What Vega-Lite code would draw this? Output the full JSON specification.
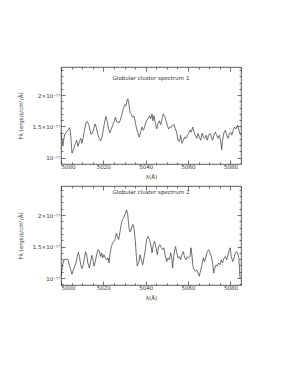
{
"$schema": "https://vega.github.io/schema/vega-lite/v6.json",
"padding": {"left": 17, "top": 66, "right": 0, "bottom": 0},
"background": "white",
"config": {
  "font": "DejaVu Sans",
  "view": {"stroke": "#333", "strokeWidth": 0.8},
  "axis": {"labelFontSize": 5.5, "titleFontSize": 5.5, "labelColor": "#333", "titleColor": "#333", "tickColor": "#333", "grid": false, "domain": false, "titleFontWeight": "normal", "tickWidth": 0.7},
  "axisX": {"labelPadding": 4, "titlePadding": 5},
  "axisY": {"labelPadding": 5, "titlePadding": 9},
  "title": {"fontSize": 5.5, "fontWeight": "normal", "color": "#333", "font": "DejaVu Sans", "baseline": "middle"},
  "concat": {"spacing": 4}
},
"datasets": {
"s1": [
{"wavelength":5000.0,"flux":1.41},{"wavelength":5000.5,"flux":1.28},{"wavelength":5000.9,"flux":1.20},{"wavelength":5001.7,"flux":1.37},{"wavelength":5002.5,"flux":1.41},{"wavelength":5003.3,"flux":1.44},{"wavelength":5004.1,"flux":1.48},{"wavelength":5004.6,"flux":1.36},{"wavelength":5005.2,"flux":1.07},{"wavelength":5006.0,"flux":1.14},{"wavelength":5006.8,"flux":1.23},{"wavelength":5007.4,"flux":1.28},{"wavelength":5008.0,"flux":1.18},{"wavelength":5008.7,"flux":1.26},{"wavelength":5009.3,"flux":1.31},{"wavelength":5009.9,"flux":1.23},{"wavelength":5010.5,"flux":1.33},{"wavelength":5011.2,"flux":1.46},{"wavelength":5011.8,"flux":1.56},{"wavelength":5012.4,"flux":1.58},{"wavelength":5013.1,"flux":1.53},{"wavelength":5013.7,"flux":1.44},{"wavelength":5014.3,"flux":1.37},{"wavelength":5015.0,"flux":1.41},{"wavelength":5015.6,"flux":1.49},{"wavelength":5016.2,"flux":1.54},{"wavelength":5016.8,"flux":1.46},{"wavelength":5017.5,"flux":1.36},{"wavelength":5018.1,"flux":1.31},{"wavelength":5018.7,"flux":1.27},{"wavelength":5019.4,"flux":1.33},{"wavelength":5020.0,"flux":1.46},{"wavelength":5020.6,"flux":1.57},{"wavelength":5021.2,"flux":1.66},{"wavelength":5021.9,"flux":1.57},{"wavelength":5022.5,"flux":1.46},{"wavelength":5023.1,"flux":1.40},{"wavelength":5023.8,"flux":1.46},{"wavelength":5024.4,"flux":1.52},{"wavelength":5025.0,"flux":1.57},{"wavelength":5025.7,"flux":1.65},{"wavelength":5026.3,"flux":1.57},{"wavelength":5026.9,"flux":1.57},{"wavelength":5027.5,"flux":1.56},{"wavelength":5028.2,"flux":1.62},{"wavelength":5028.8,"flux":1.70},{"wavelength":5029.4,"flux":1.78},{"wavelength":5030.1,"flux":1.85},{"wavelength":5030.7,"flux":1.83},{"wavelength":5031.2,"flux":1.91},{"wavelength":5031.6,"flux":1.94},{"wavelength":5032.1,"flux":1.85},{"wavelength":5032.6,"flux":1.72},{"wavelength":5033.2,"flux":1.70},{"wavelength":5033.8,"flux":1.65},{"wavelength":5034.5,"flux":1.66},{"wavelength":5035.1,"flux":1.57},{"wavelength":5035.7,"flux":1.46},{"wavelength":5036.4,"flux":1.39},{"wavelength":5037.0,"flux":1.33},{"wavelength":5037.6,"flux":1.41},{"wavelength":5038.2,"flux":1.49},{"wavelength":5038.9,"flux":1.44},{"wavelength":5039.5,"flux":1.49},{"wavelength":5040.1,"flux":1.57},{"wavelength":5040.8,"flux":1.62},{"wavelength":5041.9,"flux":1.67},{"wavelength":5042.3,"flux":1.62},{"wavelength":5043.0,"flux":1.70},{"wavelength":5043.4,"flux":1.59},{"wavelength":5043.9,"flux":1.67},{"wavelength":5044.5,"flux":1.57},{"wavelength":5045.2,"flux":1.46},{"wavelength":5045.8,"flux":1.54},{"wavelength":5046.4,"flux":1.59},{"wavelength":5047.1,"flux":1.53},{"wavelength":5047.7,"flux":1.62},{"wavelength":5048.3,"flux":1.70},{"wavelength":5049.0,"flux":1.66},{"wavelength":5049.6,"flux":1.59},{"wavelength":5050.2,"flux":1.52},{"wavelength":5050.8,"flux":1.46},{"wavelength":5051.5,"flux":1.49},{"wavelength":5052.1,"flux":1.49},{"wavelength":5052.7,"flux":1.52},{"wavelength":5053.4,"flux":1.53},{"wavelength":5054.0,"flux":1.46},{"wavelength":5054.6,"flux":1.41},{"wavelength":5055.2,"flux":1.28},{"wavelength":5055.9,"flux":1.26},{"wavelength":5056.5,"flux":1.36},{"wavelength":5057.1,"flux":1.23},{"wavelength":5057.8,"flux":1.28},{"wavelength":5058.4,"flux":1.33},{"wavelength":5059.0,"flux":1.31},{"wavelength":5059.7,"flux":1.36},{"wavelength":5060.3,"flux":1.39},{"wavelength":5060.9,"flux":1.44},{"wavelength":5061.5,"flux":1.41},{"wavelength":5062.2,"flux":1.49},{"wavelength":5062.8,"flux":1.41},{"wavelength":5063.4,"flux":1.36},{"wavelength":5064.1,"flux":1.31},{"wavelength":5064.7,"flux":1.39},{"wavelength":5065.3,"flux":1.33},{"wavelength":5066.0,"flux":1.28},{"wavelength":5066.6,"flux":1.39},{"wavelength":5067.2,"flux":1.33},{"wavelength":5067.8,"flux":1.31},{"wavelength":5068.5,"flux":1.36},{"wavelength":5069.1,"flux":1.28},{"wavelength":5069.7,"flux":1.36},{"wavelength":5070.4,"flux":1.39},{"wavelength":5071.0,"flux":1.33},{"wavelength":5071.6,"flux":1.28},{"wavelength":5072.2,"flux":1.36},{"wavelength":5072.9,"flux":1.41},{"wavelength":5073.5,"flux":1.36},{"wavelength":5074.1,"flux":1.31},{"wavelength":5074.8,"flux":1.36},{"wavelength":5075.4,"flux":1.26},{"wavelength":5075.9,"flux":1.13},{"wavelength":5076.3,"flux":1.28},{"wavelength":5077.0,"flux":1.41},{"wavelength":5077.6,"flux":1.44},{"wavelength":5078.2,"flux":1.36},{"wavelength":5078.9,"flux":1.31},{"wavelength":5079.5,"flux":1.39},{"wavelength":5080.1,"flux":1.41},{"wavelength":5080.7,"flux":1.36},{"wavelength":5081.3,"flux":1.44},{"wavelength":5082.0,"flux":1.49},{"wavelength":5082.6,"flux":1.46},{"wavelength":5083.3,"flux":1.52},{"wavelength":5083.9,"flux":1.46},{"wavelength":5084.5,"flux":1.39},{"wavelength":5085.0,"flux":1.36}
],
"s2": [
{"wavelength":5000.0,"flux":1.03},{"wavelength":5000.2,"flux":1.08},{"wavelength":5000.8,"flux":1.21},{"wavelength":5001.4,"flux":1.29},{"wavelength":5002.4,"flux":1.30},{"wavelength":5003.3,"flux":1.29},{"wavelength":5003.9,"flux":1.21},{"wavelength":5004.6,"flux":1.13},{"wavelength":5005.2,"flux":1.06},{"wavelength":5005.8,"flux":1.13},{"wavelength":5006.5,"flux":1.19},{"wavelength":5007.1,"flux":1.24},{"wavelength":5007.7,"flux":1.34},{"wavelength":5008.2,"flux":1.41},{"wavelength":5008.7,"flux":1.34},{"wavelength":5009.3,"flux":1.21},{"wavelength":5009.9,"flux":1.15},{"wavelength":5010.5,"flux":1.21},{"wavelength":5011.2,"flux":1.34},{"wavelength":5011.6,"flux":1.42},{"wavelength":5012.1,"flux":1.37},{"wavelength":5012.7,"flux":1.24},{"wavelength":5013.4,"flux":1.16},{"wavelength":5014.0,"flux":1.26},{"wavelength":5014.5,"flux":1.36},{"wavelength":5015.0,"flux":1.32},{"wavelength":5015.6,"flux":1.19},{"wavelength":5016.2,"flux":1.26},{"wavelength":5016.8,"flux":1.37},{"wavelength":5017.5,"flux":1.45},{"wavelength":5018.1,"flux":1.42},{"wavelength":5018.7,"flux":1.34},{"wavelength":5019.2,"flux":1.40},{"wavelength":5019.7,"flux":1.32},{"wavelength":5020.3,"flux":1.37},{"wavelength":5020.9,"flux":1.32},{"wavelength":5021.6,"flux":1.29},{"wavelength":5022.2,"flux":1.32},{"wavelength":5022.7,"flux":1.24},{"wavelength":5023.1,"flux":1.37},{"wavelength":5023.8,"flux":1.50},{"wavelength":5024.4,"flux":1.56},{"wavelength":5025.0,"flux":1.58},{"wavelength":5025.7,"flux":1.63},{"wavelength":5026.1,"flux":1.71},{"wavelength":5026.6,"flux":1.66},{"wavelength":5027.2,"flux":1.61},{"wavelength":5027.9,"flux":1.74},{"wavelength":5028.5,"flux":1.87},{"wavelength":5029.1,"flux":1.93},{"wavelength":5029.7,"flux":1.96},{"wavelength":5030.4,"flux":2.03},{"wavelength":5031.0,"flux":2.08},{"wavelength":5031.5,"flux":2.01},{"wavelength":5031.9,"flux":1.85},{"wavelength":5032.4,"flux":1.74},{"wavelength":5032.9,"flux":1.74},{"wavelength":5033.5,"flux":1.82},{"wavelength":5034.0,"flux":1.85},{"wavelength":5034.5,"flux":1.79},{"wavelength":5035.1,"flux":1.58},{"wavelength":5035.6,"flux":1.34},{"wavelength":5036.0,"flux":1.19},{"wavelength":5036.7,"flux":1.24},{"wavelength":5037.3,"flux":1.37},{"wavelength":5037.9,"flux":1.29},{"wavelength":5038.6,"flux":1.21},{"wavelength":5039.2,"flux":1.32},{"wavelength":5039.8,"flux":1.45},{"wavelength":5040.4,"flux":1.61},{"wavelength":5041.1,"flux":1.66},{"wavelength":5041.7,"flux":1.62},{"wavelength":5042.3,"flux":1.55},{"wavelength":5043.0,"flux":1.40},{"wavelength":5043.6,"flux":1.53},{"wavelength":5044.2,"flux":1.58},{"wavelength":5044.9,"flux":1.48},{"wavelength":5045.5,"flux":1.37},{"wavelength":5046.1,"flux":1.50},{"wavelength":5046.7,"flux":1.53},{"wavelength":5047.4,"flux":1.48},{"wavelength":5048.0,"flux":1.45},{"wavelength":5048.6,"flux":1.48},{"wavelength":5049.3,"flux":1.34},{"wavelength":5049.9,"flux":1.26},{"wavelength":5050.5,"flux":1.32},{"wavelength":5051.2,"flux":1.29},{"wavelength":5051.8,"flux":1.40},{"wavelength":5052.3,"flux":1.32},{"wavelength":5052.7,"flux":1.16},{"wavelength":5053.2,"flux":1.34},{"wavelength":5053.7,"flux":1.45},{"wavelength":5054.1,"flux":1.50},{"wavelength":5054.6,"flux":1.42},{"wavelength":5055.2,"flux":1.32},{"wavelength":5055.9,"flux":1.34},{"wavelength":5056.5,"flux":1.29},{"wavelength":5057.1,"flux":1.37},{"wavelength":5057.8,"flux":1.42},{"wavelength":5058.4,"flux":1.32},{"wavelength":5059.0,"flux":1.29},{"wavelength":5059.7,"flux":1.34},{"wavelength":5060.3,"flux":1.32},{"wavelength":5060.9,"flux":1.34},{"wavelength":5061.4,"flux":1.48},{"wavelength":5061.9,"flux":1.34},{"wavelength":5062.3,"flux":1.19},{"wavelength":5062.8,"flux":1.13},{"wavelength":5063.4,"flux":1.11},{"wavelength":5064.1,"flux":1.13},{"wavelength":5064.7,"flux":1.08},{"wavelength":5065.3,"flux":1.03},{"wavelength":5066.0,"flux":1.13},{"wavelength":5066.6,"flux":1.21},{"wavelength":5067.2,"flux":1.32},{"wavelength":5067.8,"flux":1.26},{"wavelength":5068.5,"flux":1.34},{"wavelength":5069.1,"flux":1.42},{"wavelength":5069.7,"flux":1.45},{"wavelength":5070.4,"flux":1.40},{"wavelength":5071.0,"flux":1.34},{"wavelength":5071.6,"flux":1.24},{"wavelength":5072.1,"flux":1.08},{"wavelength":5072.6,"flux":1.16},{"wavelength":5073.2,"flux":1.21},{"wavelength":5073.8,"flux":1.19},{"wavelength":5074.4,"flux":1.24},{"wavelength":5075.1,"flux":1.21},{"wavelength":5075.7,"flux":1.29},{"wavelength":5076.3,"flux":1.24},{"wavelength":5077.0,"flux":1.32},{"wavelength":5077.6,"flux":1.34},{"wavelength":5078.2,"flux":1.29},{"wavelength":5078.9,"flux":1.37},{"wavelength":5079.5,"flux":1.45},{"wavelength":5079.9,"flux":1.48},{"wavelength":5080.4,"flux":1.34},{"wavelength":5081.1,"flux":1.26},{"wavelength":5081.7,"flux":1.32},{"wavelength":5082.3,"flux":1.40},{"wavelength":5083.0,"flux":1.42},{"wavelength":5083.6,"flux":1.37},{"wavelength":5084.0,"flux":1.32},{"wavelength":5084.5,"flux":1.00}
]
},
"vconcat": [
{
  "width": 180, "height": 97,
  "data": {"name": "s1"},
  "title": {"text": "Globular cluster spectrum 1", "offset": -15},
  "resolve": {"axis": {"x": "independent", "y": "independent"}},
  "layer": [
    {"mark": {"type": "line", "color": "#333", "strokeWidth": 0.7},
     "encoding": {
       "x": {"field": "wavelength", "type": "quantitative", "scale": {"domain": [5000, 5085], "nice": false, "zero": false},
             "axis": {"orient": "bottom", "values": [5000, 5020, 5040, 5060, 5080], "tickSize": -4, "format": "d", "title": "λ(Å)"}},
       "y": {"field": "flux", "type": "quantitative", "scale": {"domain": [0.9, 2.45], "nice": false, "zero": false},
             "axis": {"orient": "left", "values": [1, 1.5, 2], "tickSize": -4, "title": "Fλ (ergs/s/cm²/Å)", "labelExpr": "datum.value == 1 ? '10⁻¹⁷' : (datum.value == 2 ? '2×10⁻¹⁷' : '1.5×10⁻¹⁷')"}}
     }},
    {"mark": {"type": "line", "opacity": 0},
     "encoding": {
       "x": {"field": "wavelength", "type": "quantitative", "scale": {"domain": [5000, 5085], "nice": false, "zero": false},
             "axis": {"orient": "top", "values": [5000, 5020, 5040, 5060, 5080], "tickSize": -4, "labels": false, "title": null}},
       "y": {"field": "flux", "type": "quantitative", "scale": {"domain": [0.9, 2.45], "nice": false, "zero": false},
             "axis": {"orient": "right", "values": [1, 1.5, 2], "tickSize": -4, "labels": false, "title": null}}
     }},
    {"mark": {"type": "line", "opacity": 0},
     "encoding": {
       "x": {"field": "wavelength", "type": "quantitative", "scale": {"domain": [5000, 5085], "nice": false, "zero": false},
             "axis": {"orient": "bottom", "values": [5005, 5010, 5015, 5025, 5030, 5035, 5045, 5050, 5055, 5065, 5070, 5075, 5085], "tickSize": -2, "labels": false, "title": null}},
       "y": {"field": "flux", "type": "quantitative", "scale": {"domain": [0.9, 2.45], "nice": false, "zero": false},
             "axis": {"orient": "left", "values": [1.1, 1.2, 1.3, 1.4, 1.6, 1.7, 1.8, 1.9, 2.1, 2.2, 2.3, 2.4], "tickSize": -2, "labels": false, "title": null}}
     }},
    {"mark": {"type": "line", "opacity": 0},
     "encoding": {
       "x": {"field": "wavelength", "type": "quantitative", "scale": {"domain": [5000, 5085], "nice": false, "zero": false},
             "axis": {"orient": "top", "values": [5005, 5010, 5015, 5025, 5030, 5035, 5045, 5050, 5055, 5065, 5070, 5075, 5085], "tickSize": -2, "labels": false, "title": null}},
       "y": {"field": "flux", "type": "quantitative", "scale": {"domain": [0.9, 2.45], "nice": false, "zero": false},
             "axis": {"orient": "right", "values": [1.1, 1.2, 1.3, 1.4, 1.6, 1.7, 1.8, 1.9, 2.1, 2.2, 2.3, 2.4], "tickSize": -2, "labels": false, "title": null}}
     }}
  ]
},
{
  "width": 180, "height": 99,
  "data": {"name": "s2"},
  "title": {"text": "Globular cluster spectrum 2", "offset": -10},
  "resolve": {"axis": {"x": "independent", "y": "independent"}},
  "layer": [
    {"mark": {"type": "line", "color": "#333", "strokeWidth": 0.7},
     "encoding": {
       "x": {"field": "wavelength", "type": "quantitative", "scale": {"domain": [5000, 5085], "nice": false, "zero": false},
             "axis": {"orient": "bottom", "values": [5000, 5020, 5040, 5060, 5080], "tickSize": -4, "format": "d", "title": "λ(Å)"}},
       "y": {"field": "flux", "type": "quantitative", "scale": {"domain": [0.89, 2.46], "nice": false, "zero": false},
             "axis": {"orient": "left", "values": [1, 1.5, 2], "tickSize": -4, "title": "Fλ (ergs/s/cm²/Å)", "labelExpr": "datum.value == 1 ? '10⁻¹⁷' : (datum.value == 2 ? '2×10⁻¹⁷' : '1.5×10⁻¹⁷')"}}
     }},
    {"mark": {"type": "line", "opacity": 0},
     "encoding": {
       "x": {"field": "wavelength", "type": "quantitative", "scale": {"domain": [5000, 5085], "nice": false, "zero": false},
             "axis": {"orient": "top", "values": [5000, 5020, 5040, 5060, 5080], "tickSize": -4, "labels": false, "title": null}},
       "y": {"field": "flux", "type": "quantitative", "scale": {"domain": [0.89, 2.46], "nice": false, "zero": false},
             "axis": {"orient": "right", "values": [1, 1.5, 2], "tickSize": -4, "labels": false, "title": null}}
     }},
    {"mark": {"type": "line", "opacity": 0},
     "encoding": {
       "x": {"field": "wavelength", "type": "quantitative", "scale": {"domain": [5000, 5085], "nice": false, "zero": false},
             "axis": {"orient": "bottom", "values": [5005, 5010, 5015, 5025, 5030, 5035, 5045, 5050, 5055, 5065, 5070, 5075, 5085], "tickSize": -2, "labels": false, "title": null}},
       "y": {"field": "flux", "type": "quantitative", "scale": {"domain": [0.89, 2.46], "nice": false, "zero": false},
             "axis": {"orient": "left", "values": [0.9, 1.1, 1.2, 1.3, 1.4, 1.6, 1.7, 1.8, 1.9, 2.1, 2.2, 2.3, 2.4], "tickSize": -2, "labels": false, "title": null}}
     }},
    {"mark": {"type": "line", "opacity": 0},
     "encoding": {
       "x": {"field": "wavelength", "type": "quantitative", "scale": {"domain": [5000, 5085], "nice": false, "zero": false},
             "axis": {"orient": "top", "values": [5005, 5010, 5015, 5025, 5030, 5035, 5045, 5050, 5055, 5065, 5070, 5075, 5085], "tickSize": -2, "labels": false, "title": null}},
       "y": {"field": "flux", "type": "quantitative", "scale": {"domain": [0.89, 2.46], "nice": false, "zero": false},
             "axis": {"orient": "right", "values": [0.9, 1.1, 1.2, 1.3, 1.4, 1.6, 1.7, 1.8, 1.9, 2.1, 2.2, 2.3, 2.4], "tickSize": -2, "labels": false, "title": null}}
     }}
  ]
}
]
}
